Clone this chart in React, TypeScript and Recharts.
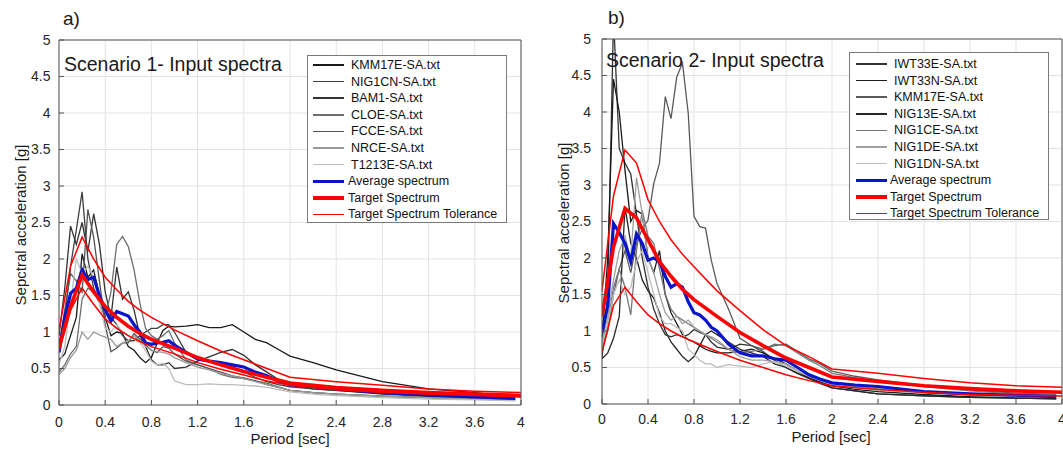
import React from 'react';
import { LineChart, Line, XAxis, YAxis, CartesianGrid } from 'recharts';

// periods [sec] of the record spectra and of the target spectrum
const periods = [
  0, 0.05, 0.1, 0.15, 0.2, 0.25, 0.3, 0.35, 0.4, 0.45, 0.5, 0.55, 0.6, 0.65, 0.7, 0.75, 0.8, 0.85, 0.9, 0.95,
  1.0, 1.1, 1.2, 1.3, 1.4, 1.5, 1.6, 1.7, 1.8, 1.9, 2.0, 2.2, 2.4, 2.8, 3.2, 3.6, 3.95,
];
const targetPeriods = [0, 0.1, 0.2, 0.3, 0.4, 0.5, 0.6, 0.7, 0.8, 1.0, 1.2, 1.4, 1.6, 1.8, 2.0, 2.4, 2.8, 3.2, 3.6, 4.0];

const xTicks = [0, 0.4, 0.8, 1.2, 1.6, 2, 2.4, 2.8, 3.2, 3.6, 4];
const yTicks = [0, 0.5, 1, 1.5, 2, 2.5, 3, 3.5, 4, 4.5, 5];

// scenario 1
const kmm17eA = [0.62, 0.7, 0.95, 1.2, 2.07, 1.75, 1.85, 1.5, 1.2, 0.95, 1.0, 0.98, 0.8, 0.75, 0.65, 0.58, 0.65, 0.85, 1.02, 1.08, 1.07, 1.08, 1.1, 1.06, 1.06, 1.1, 1.0, 0.9, 0.85, 0.76, 0.67, 0.58, 0.48, 0.32, 0.22, 0.17, 0.11];
const nig1cnA = [0.75, 1.2, 1.9, 2.4, 2.92, 2.0, 1.6, 1.45, 1.3, 1.2, 1.1, 0.95, 0.88, 0.88, 0.95, 1.0, 1.05, 1.05, 1.1, 1.1, 1.0, 0.72, 0.62, 0.6, 0.58, 0.52, 0.45, 0.38, 0.32, 0.28, 0.25, 0.22, 0.2, 0.15, 0.12, 0.1, 0.08];
const bam1A = [0.95, 1.6, 2.45, 2.2, 2.5, 2.1, 2.62, 2.2, 1.55, 1.2, 1.89, 1.45, 1.55, 1.3, 0.95, 0.8, 0.62, 0.55, 0.55, 0.58, 0.5, 0.52, 0.6, 0.66, 0.72, 0.76, 0.68, 0.55, 0.45, 0.35, 0.28, 0.22, 0.2, 0.16, 0.12, 0.1, 0.08];
const cloeA = [0.45, 0.55, 0.7, 0.8, 1.45, 1.6, 1.55, 1.4, 1.2, 1.55, 2.2, 2.31, 2.17, 1.85, 1.4, 1.05, 0.95, 0.9, 0.95, 1.02, 0.85, 0.62, 0.55, 0.5, 0.42, 0.38, 0.36, 0.33, 0.3, 0.25, 0.2, 0.17, 0.15, 0.12, 0.1, 0.08, 0.07];
const fcceA = [0.8, 1.3, 1.8, 1.7, 1.55, 2.68, 2.3, 1.7, 1.1, 0.73, 0.78, 0.85, 0.85, 0.98, 0.9, 0.82, 0.75, 0.72, 0.8, 0.78, 0.7, 0.6, 0.55, 0.5, 0.45, 0.4, 0.37, 0.33, 0.28, 0.24, 0.2, 0.17, 0.15, 0.12, 0.1, 0.08, 0.07];
const nrceA = [0.42, 0.5, 0.65, 0.75, 1.0, 0.9, 1.0, 0.96, 0.93, 0.9, 0.8, 0.85, 0.88, 0.95, 0.88, 0.8, 0.75, 0.73, 0.72, 0.7, 0.65, 0.58, 0.52, 0.48, 0.43, 0.4, 0.36, 0.32, 0.28, 0.24, 0.2, 0.17, 0.15, 0.12, 0.1, 0.08, 0.06];
const t1213eA = [0.55, 0.8, 1.4, 2.0, 1.8, 1.9, 1.75, 1.4, 1.05, 1.0, 1.1, 1.0, 0.95, 0.9, 0.85, 0.75, 0.6, 0.55, 0.57, 0.5, 0.33, 0.28, 0.28, 0.29, 0.28, 0.28, 0.27, 0.26, 0.24, 0.21, 0.18, 0.15, 0.13, 0.1, 0.08, 0.07, 0.06];
const averageA = [0.72, 1.2, 1.53, 1.6, 1.85, 1.72, 1.75, 1.5, 1.3, 1.15, 1.28, 1.25, 1.22, 1.1, 1.0, 0.85, 0.83, 0.85, 0.86, 0.88, 0.82, 0.72, 0.63, 0.6, 0.58, 0.55, 0.52, 0.45, 0.4, 0.33, 0.28, 0.25, 0.22, 0.17, 0.14, 0.11, 0.09];
const targetA = [0.78, 1.35, 1.78, 1.55, 1.35, 1.2, 1.08, 0.98, 0.9, 0.78, 0.65, 0.55, 0.46, 0.38, 0.3, 0.24, 0.2, 0.17, 0.15, 0.13];
const upperA = [1.02, 1.9, 2.3, 2.0, 1.75, 1.58, 1.42, 1.3, 1.2, 1.03, 0.88, 0.74, 0.62, 0.5, 0.38, 0.32, 0.27, 0.22, 0.19, 0.17];
const lowerA = [0.75, 1.3, 1.6, 1.38, 1.18, 1.05, 0.95, 0.87, 0.8, 0.7, 0.58, 0.49, 0.41, 0.33, 0.27, 0.21, 0.17, 0.15, 0.13, 0.11];

// scenario 2
const iwt33eB = [0.62, 1.5, 5.3, 3.5, 3.3, 3.15, 2.6, 2.0, 1.6, 1.3, 1.1, 0.95, 0.92, 0.95, 0.92, 0.95, 1.02, 0.98, 0.95, 0.85, 0.78, 0.75, 0.82, 0.8, 0.72, 0.6, 0.5, 0.42, 0.35, 0.3, 0.22, 0.18, 0.14, 0.11, 0.09, 0.08, 0.07];
const iwt33nB = [0.9, 2.0, 4.45, 4.0, 3.2, 2.5, 2.65, 2.6, 2.0, 1.8, 2.1, 1.5, 1.25, 1.1, 0.95, 0.88, 0.85, 0.8, 0.75, 0.72, 0.7, 0.7, 0.72, 0.75, 0.7, 0.62, 0.55, 0.45, 0.36, 0.3, 0.25, 0.2, 0.17, 0.13, 0.1, 0.09, 0.08];
const kmm17eB = [0.75, 1.0, 1.5, 1.85, 2.1, 1.8, 2.2, 2.4, 2.52, 3.02, 3.3, 4.21, 3.91, 4.48, 4.67, 3.98, 2.57, 2.43, 2.41, 1.97, 1.65, 1.3, 0.9, 0.8, 0.75, 0.8, 0.82, 0.72, 0.62, 0.55, 0.45, 0.38, 0.33, 0.25, 0.19, 0.15, 0.13];
const nig13eB = [0.62, 0.7, 0.9, 1.2, 2.7, 2.2, 2.0, 1.7, 1.55, 1.45, 1.25, 1.0, 0.85, 0.75, 0.65, 0.58, 0.65, 0.8, 0.95, 1.0, 0.95, 0.85, 0.75, 0.7, 0.65, 0.55, 0.5, 0.42, 0.35, 0.28, 0.22, 0.18, 0.14, 0.11, 0.09, 0.08, 0.07];
const nig1ceB = [0.75, 1.1, 1.6, 1.85, 1.6, 1.22, 2.1, 2.65, 2.3, 2.2, 1.85, 1.5, 1.3, 1.2, 1.15, 1.1, 1.05, 1.0, 0.95, 0.9, 0.85, 0.75, 0.7, 0.72, 0.75, 0.82, 0.8, 0.7, 0.6, 0.52, 0.42, 0.36, 0.32, 0.24, 0.18, 0.14, 0.12];
const nig1deB = [0.85, 1.2, 1.7, 2.1, 2.3, 2.0, 3.1, 2.6, 2.0, 1.8, 1.5, 1.25, 1.15, 1.2, 1.1, 1.15, 1.05, 1.0, 0.95, 0.92, 0.88, 0.75, 0.65, 0.6, 0.6, 0.58, 0.55, 0.45, 0.38, 0.32, 0.28, 0.24, 0.21, 0.17, 0.14, 0.12, 0.1];
const nig1dnB = [0.8, 1.1, 1.5, 1.7, 1.5, 1.6, 1.95, 2.1, 1.8, 1.5, 1.2, 1.1, 1.1, 1.05, 1.0, 0.75, 0.68, 0.6, 0.55, 0.55, 0.5, 0.54, 0.52, 0.5, 0.55, 0.58, 0.52, 0.45, 0.38, 0.32, 0.27, 0.22, 0.19, 0.15, 0.12, 0.1, 0.09];
const averageB = [0.98, 1.35, 2.47, 2.35, 2.2, 1.95, 2.33, 2.2, 1.97, 2.0, 1.95, 1.75, 1.6, 1.65, 1.6, 1.4, 1.25, 1.22, 1.15, 1.05, 1.0, 0.82, 0.7, 0.66, 0.66, 0.62, 0.6, 0.5, 0.4, 0.34, 0.29, 0.26, 0.24, 0.17, 0.14, 0.12, 0.1];
const targetB = [1.2, 2.15, 2.68, 2.55, 2.25, 1.95, 1.75, 1.57, 1.43, 1.2, 0.98, 0.8, 0.63, 0.5, 0.37, 0.31, 0.25, 0.21, 0.18, 0.16];
const upperB = [1.55, 2.85, 3.48, 3.3, 2.8, 2.5, 2.25, 2.05, 1.88, 1.55, 1.28, 1.02, 0.8, 0.65, 0.48, 0.42, 0.35, 0.29, 0.25, 0.23];
const lowerB = [0.7, 1.35, 1.6, 1.4, 1.22, 1.1, 1.0, 0.92, 0.85, 0.72, 0.6, 0.5, 0.4, 0.32, 0.25, 0.2, 0.16, 0.13, 0.12, 0.11];

const FONT = "'Liberation Sans', Arial, Helvetica, sans-serif";
const BLUE = '#0a14c8';
const RED = '#ff0000';

type Rec = { name: string; values: number[]; color: string };

const recordsA: Rec[] = [
  { name: 'KMM17E-SA.txt', values: kmm17eA, color: '#1a1a1a' },
  { name: 'NIG1CN-SA.txt', values: nig1cnA, color: '#404040' },
  { name: 'BAM1-SA.txt', values: bam1A, color: '#333333' },
  { name: 'CLOE-SA.txt', values: cloeA, color: '#6e6e6e' },
  { name: 'FCCE-SA.txt', values: fcceA, color: '#555555' },
  { name: 'NRCE-SA.txt', values: nrceA, color: '#999999' },
  { name: 'T1213E-SA.txt', values: t1213eA, color: '#bdbdbd' },
];
const recordsB: Rec[] = [
  { name: 'IWT33E-SA.txt', values: iwt33eB, color: '#333333' },
  { name: 'IWT33N-SA.txt', values: iwt33nB, color: '#1a1a1a' },
  { name: 'KMM17E-SA.txt', values: kmm17eB, color: '#5a5a5a' },
  { name: 'NIG13E-SA.txt', values: nig13eB, color: '#262626' },
  { name: 'NIG1CE-SA.txt', values: nig1ceB, color: '#777777' },
  { name: 'NIG1DE-SA.txt', values: nig1deB, color: '#a0a0a0' },
  { name: 'NIG1DN-SA.txt', values: nig1dnB, color: '#bdbdbd' },
];

const toPoints = (xs: number[], ys: number[]) => xs.map((t, i) => ({ t, v: ys[i] }));
const fmt = (v: number) => String(Math.round(v * 10) / 10);

const tickStyle = { fill: '#262626', fontSize: 14, fontFamily: FONT };
const axisStyle = { stroke: '#555', strokeWidth: 1 };

interface PanelProps {
  left: number;
  width: number;
  recs: Rec[];
  avg: number[];
  target: number[];
  upper: number[];
  lower: number[];
  margin: { top: number; right: number; bottom: number; left: number };
  yAxisWidth: number;
  xAxisHeight: number;
  yTickMargin: number;
  xTickMargin: number;
}

const SpectraChart = (p: PanelProps) => (
  <div style={{ position: 'absolute', left: p.left, top: 0 }}>
    <LineChart width={p.width} height={449} margin={p.margin}>
      <CartesianGrid stroke="#e3e3e3" strokeWidth={1} />
      <XAxis
        dataKey="t"
        type="number"
        domain={[0, 4]}
        ticks={xTicks}
        interval={0}
        allowDataOverflow
        height={p.xAxisHeight}
        tickSize={-5}
        tickMargin={p.xTickMargin}
        tickFormatter={fmt}
        tick={tickStyle}
        axisLine={axisStyle}
        tickLine={axisStyle}
      />
      <XAxis
        xAxisId="top"
        orientation="top"
        dataKey="t"
        type="number"
        domain={[0, 4]}
        ticks={xTicks}
        interval={0}
        height={1}
        tick={false}
        tickSize={-5}
        axisLine={axisStyle}
        tickLine={axisStyle}
      />
      <YAxis
        type="number"
        domain={[0, 5]}
        ticks={yTicks}
        interval={0}
        allowDataOverflow
        width={p.yAxisWidth}
        tickSize={-5}
        tickMargin={p.yTickMargin}
        tick={tickStyle}
        axisLine={axisStyle}
        tickLine={axisStyle}
      />
      <YAxis
        yAxisId="right"
        orientation="right"
        type="number"
        domain={[0, 5]}
        ticks={yTicks}
        interval={0}
        width={1}
        tick={false}
        tickSize={-5}
        axisLine={axisStyle}
        tickLine={axisStyle}
      />
      {p.recs.map((r) => (
        <Line
          key={r.name}
          data={toPoints(periods, r.values)}
          dataKey="v"
          type="linear"
          stroke={r.color}
          strokeWidth={1.3}
          dot={false}
          isAnimationActive={false}
        />
      ))}
      <Line data={toPoints(periods, p.avg)} dataKey="v" type="linear" stroke={BLUE} strokeWidth={3.2} dot={false} isAnimationActive={false} />
      <Line data={toPoints(targetPeriods, p.target)} dataKey="v" type="linear" stroke={RED} strokeWidth={3.6} dot={false} isAnimationActive={false} />
      <Line data={toPoints(targetPeriods, p.upper)} dataKey="v" type="linear" stroke={RED} strokeWidth={1.5} dot={false} isAnimationActive={false} />
      <Line data={toPoints(targetPeriods, p.lower)} dataKey="v" type="linear" stroke={RED} strokeWidth={1.5} dot={false} isAnimationActive={false} />
    </LineChart>
  </div>
);

const LegendBox = ({ recs, left, top, firstRow, lineX, textX, colorTextX }: {
  recs: Rec[]; left: number; top: number; firstRow: number; lineX: number; textX: number; colorTextX: number;
}) => {
  const items = [
    ...recs.map((r) => ({ name: r.name, color: r.color, w: 1.5, tx: textX })),
    { name: 'Average spectrum', color: BLUE, w: 3.2, tx: colorTextX },
    { name: 'Target Spectrum', color: RED, w: 3.6, tx: colorTextX },
    { name: 'Target Spectrum Tolerance', color: RED, w: 1.5, tx: colorTextX },
  ];
  return (
    <div
      style={{
        position: 'absolute', left, top, width: 200, height: 168, background: '#fff',
        border: '1px solid #7a7a7a', boxSizing: 'border-box', fontFamily: FONT, color: '#111',
      }}
    >
      {items.map((it, i) => (
        <div key={it.name} style={{ position: 'absolute', left: 0, top: firstRow + i * 16.6 - 8, height: 16, width: '100%' }}>
          <div style={{ position: 'absolute', left: lineX, width: 31, top: 8 - it.w / 2, height: it.w, background: it.color }} />
          <span style={{ position: 'absolute', left: it.tx, top: 0, fontSize: 12.5, lineHeight: '16px', whiteSpace: 'nowrap' }}>
            {it.name}
          </span>
        </div>
      ))}
    </div>
  );
};

const Txt = ({ x, y, size, children, center }: { x: number; y: number; size: number; children: React.ReactNode; center?: boolean }) => (
  <div
    style={{
      position: 'absolute', left: x, top: y - size / 2, fontSize: size, lineHeight: 1, fontFamily: FONT,
      color: '#1a1a1a', whiteSpace: 'nowrap', transform: center ? 'translateX(-50%)' : undefined,
    }}
  >
    {children}
  </div>
);

const YTitle = ({ x, y }: { x: number; y: number }) => (
  <div
    style={{
      position: 'absolute', left: x, top: y, fontSize: 15, lineHeight: 1, fontFamily: FONT, color: '#1a1a1a',
      whiteSpace: 'nowrap', transform: 'translate(-50%, -50%) rotate(-90deg)',
    }}
  >
    Sepctral acceleration [g]
  </div>
);

export default function App() {
  return (
    <div style={{ position: 'absolute', left: 0, top: 0, width: 1063, height: 449, background: '#fff', overflow: 'hidden' }}>
      <SpectraChart
        left={0}
        width={530}
        recs={recordsA}
        avg={averageA}
        target={targetA}
        upper={upperA}
        lower={lowerA}
        margin={{ top: 39, right: 8, bottom: 0, left: 0 }}
        yAxisWidth={59}
        xAxisHeight={44}
        yTickMargin={13.5}
        xTickMargin={17}
      />
      <SpectraChart
        left={530}
        width={533}
        recs={recordsB}
        avg={averageB}
        target={targetB}
        upper={upperB}
        lower={lowerB}
        margin={{ top: 38, right: 0, bottom: 0, left: 0 }}
        yAxisWidth={72}
        xAxisHeight={45}
        yTickMargin={16}
        xTickMargin={15}
      />
      <LegendBox recs={recordsA} left={307} top={55} firstRow={9} lineX={5} textX={43} colorTextX={40} />
      <LegendBox recs={recordsB} left={849} top={52} firstRow={11} lineX={6} textX={44} colorTextX={40} />
      <Txt x={63} y={18} size={19}>a)</Txt>
      <Txt x={608} y={17} size={19}>b)</Txt>
      <Txt x={64} y={65} size={19.5}>Scenario 1- Input spectra</Txt>
      <Txt x={606} y={61} size={19.5}>Scenario 2- Input spectra</Txt>
      <Txt x={290} y={438} size={15} center>Period [sec]</Txt>
      <Txt x={831} y={436} size={15} center>Period [sec]</Txt>
      <YTitle x={19.5} y={225} />
      <YTitle x={563} y={223} />
    </div>
  );
}
